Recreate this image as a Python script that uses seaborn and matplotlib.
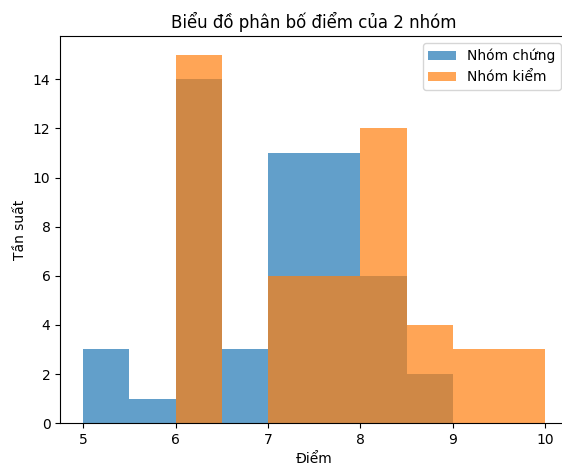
import matplotlib
matplotlib.use("Agg")
import matplotlib.pyplot as plt
import seaborn as sns
import numpy as np

# Data: bin centers and counts
bins_chung = [5.0, 5.5, 6.0, 6.5, 7.0, 7.5, 8.0, 8.5, 9.0]
centers_chung = [5.25, 5.75, 6.25, 6.75, 7.25, 7.75, 8.25, 8.75]
counts_chung = [3, 1, 14, 3, 11, 11, 6, 2]

bins_kiem = [6.0, 6.5, 7.0, 7.5, 8.0, 8.5, 9.0, 9.5, 10.0]
centers_kiem = [6.25, 6.75, 7.25, 7.75, 8.25, 8.75, 9.25, 9.75]
counts_kiem = [15, 0, 6, 6, 12, 4, 3, 3]

label_chung = "Nhóm chứng"
label_kiem = "Nhóm kiểm"
title = "Biểu đồ phân bố điểm của 2 nhóm"

sns.set_style("ticks")
plt.rcParams['font.family'] = ['DejaVu Sans']
plt.rcParams['text.color'] = 'black'
plt.rcParams['axes.labelcolor'] = 'black'
plt.rcParams['xtick.color'] = 'black'
plt.rcParams['ytick.color'] = 'black'

fig = plt.figure(figsize=(5.62, 4.66), dpi=100)
ax = fig.add_axes([0.107, 0.092, 0.904, 0.83])

sns.histplot(x=centers_chung, weights=counts_chung, bins=bins_chung, ax=ax,
             color="#1f77b4", alpha=0.7, linewidth=0, label=label_chung)
sns.histplot(x=centers_kiem, weights=counts_kiem, bins=bins_kiem, ax=ax,
             color="#ff7f0e", alpha=0.7, linewidth=0, label=label_kiem)

ax.set_xlim(4.75, 10.25)
ax.set_ylim(0, 15.75)
ax.set_yticks([0, 2, 4, 6, 8, 10, 12, 14])
ax.set_xticks([5, 6, 7, 8, 9, 10])
ax.set_title(title, fontsize=12)
ax.set_xlabel("Điểm", fontsize=10)
ax.set_ylabel("Tần suất", fontsize=10)
ax.tick_params(labelsize=10)
for s in ax.spines.values():
    s.set_visible(True)
    s.set_color("black")
    s.set_linewidth(0.8)
ax.legend(loc="upper right", fontsize=10)

fig.savefig("out.png", dpi=100)
